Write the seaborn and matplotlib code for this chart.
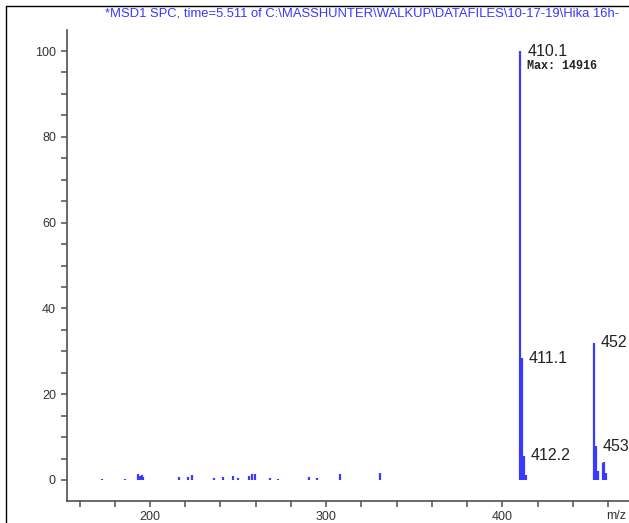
import matplotlib
matplotlib.use("Agg")
import matplotlib.pyplot as plt
from matplotlib.lines import Line2D
from matplotlib.ticker import MultipleLocator
import seaborn as sns
import pandas as pd
import numpy as np

# peak list (m/z, relative abundance %)
small_mz = [172.6, 185.8, 193.0, 194.2, 195.2, 196.2, 216.6, 221.4, 223.7, 236.5,
            241.6, 246.9, 250.1, 256.2, 258.0, 259.6, 268.1, 272.6, 290.2, 294.6,
            307.8, 330.5]
small_int = [0.3, 0.3, 1.4, 0.9, 1.2, 0.8, 0.6, 0.6, 1.2, 0.5,
             0.6, 1.0, 0.4, 1.0, 1.5, 1.4, 0.4, 0.3, 0.8, 0.5,
             1.3, 1.6]
main_mz = [410.1, 411.1, 412.2, 413.2, 452.0, 453.0, 454.0, 456.8, 457.8, 458.7]
main_int = [100.0, 28.4, 5.6, 1.2, 32.0, 7.9, 2.0, 4.0, 4.3, 1.6]

label_mz = [411.1, 412.2, 452.0, 453.0]
label_txt = ["411.1", "412.2", "452", "453"]
base_peak = 410.1
max_count = 14916

title = r"*MSD1 SPC, time=5.511 of C:\MASSHUNTER\WALKUP\DATAFILES\10-17-19\Hika 16h-"

mz = np.array(small_mz + main_mz)
inten = np.array(small_int + main_int)
df = pd.DataFrame({
    "mz": np.repeat(mz, 2),
    "rel": np.column_stack([np.zeros_like(inten), inten]).ravel(),
    "peak": np.repeat(np.arange(len(mz)), 2),
})

sns.set_style("ticks")
plt.rcParams["font.family"] = ["Liberation Sans", "DejaVu Sans"]

fig = plt.figure(figsize=(6.29, 5.23), dpi=100)
ax = fig.add_axes([67 / 629, 22 / 523, 1 - 67 / 629, 471 / 523])

blue = "#3a3aff"
sns.lineplot(data=df, x="mz", y="rel", units="peak", estimator=None, sort=False,
             color=blue, lw=1.6, legend=False, ax=ax)
for l in ax.lines:
    l.set_solid_capstyle("butt")

ax.set_xlim(152.9, 471.8)
ax.set_ylim(-4.9, 104.9)
ax.set_xlabel("")
ax.set_ylabel("")

ax.xaxis.set_major_locator(MultipleLocator(100))
ax.xaxis.set_minor_locator(MultipleLocator(20))
ax.yaxis.set_major_locator(MultipleLocator(20))
ax.yaxis.set_minor_locator(MultipleLocator(5))
ax.tick_params(which="both", direction="out", color="#505050", width=1.1)
ax.tick_params(axis="y", which="both", length=4.5)
ax.tick_params(axis="x", which="both", length=4)
ax.tick_params(labelsize=9, labelcolor="#333333")
ax.tick_params(axis="x", pad=3)

sns.despine(ax=ax)
for s in ["left", "bottom"]:
    ax.spines[s].set_color("#505050")
    ax.spines[s].set_linewidth(1.2)

# peak labels
txt_col = "#222222"
for m, t in zip(label_mz, label_txt):
    h = main_int[main_mz.index(m)]
    ax.annotate(t, (m, h), xytext=(5, 0), textcoords="offset points",
                fontsize=11.5, color=txt_col, ha="left", va="center")
ax.annotate(f"{base_peak:.1f}", (base_peak, 100), xytext=(5, 0), textcoords="offset points",
            fontsize=11.5, color=txt_col, ha="left", va="center")
ax.annotate(f"Max: {max_count}", (base_peak, 100), xytext=(5, -11), textcoords="offset points",
            fontsize=8.5, color=txt_col, ha="left", va="center", family="Liberation Mono",
            fontweight="bold")

fig.text(606 / 629, 7 / 523, "m/z", fontsize=9, color="#333333", ha="left", va="center")
fig.text(105 / 629, 1 - 14 / 523, title, fontsize=9.4, color="#3838ff", ha="left", va="center")

# outer frame of the report panel
fig.add_artist(Line2D([6.5 / 629, 6.5 / 629], [0, 1 - 6 / 523], color="black", lw=1.0))
fig.add_artist(Line2D([6.5 / 629, 1], [1 - 6 / 523, 1 - 6 / 523], color="black", lw=1.0))

fig.savefig("out.png", dpi=100)
